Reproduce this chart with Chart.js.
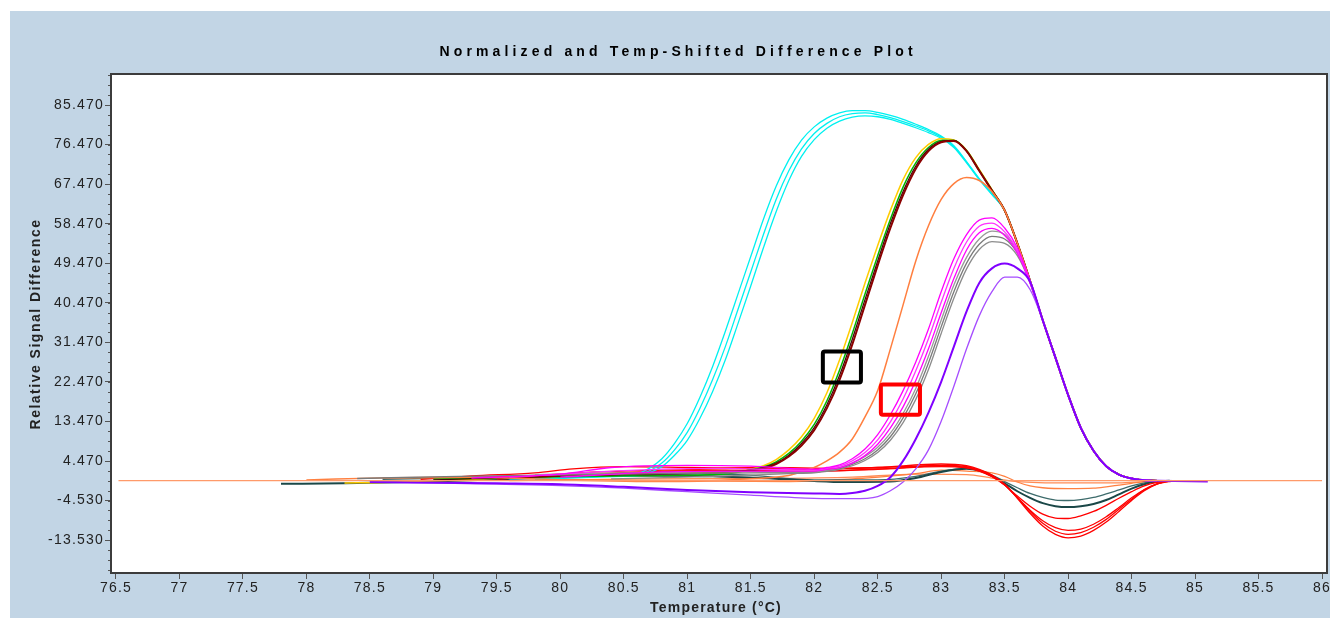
<!DOCTYPE html>
<html>
<head>
<meta charset="utf-8">
<script src="https://cdn.jsdelivr.net/npm/chart.js@4.4.1/dist/chart.umd.min.js"></script>
<style>
  html, body { margin: 0; padding: 0; background: #ffffff; }
  #plot { display: block; }
</style>
</head>
<body>
<canvas id="plot" width="1334" height="618"></canvas>
<script>
// Difference curves, [temperature °C, relative signal difference]

const xTicks = [76.5, 77, 77.5, 78, 78.5, 79, 79.5, 80, 80.5, 81, 81.5, 82, 82.5, 83, 83.5, 84, 84.5, 85, 85.5, 86];
const yTicks = [-13.53, -4.53, 4.47, 13.47, 22.47, 31.47, 40.47, 49.47, 58.47, 67.47, 76.47, 85.47];

// shared falling edge after the melt peak
const fallTail = [[83.5, 61.5], [83.6, 54], [83.7, 45.5], [83.8, 36.5], [83.9, 28], [84.0, 19.5], [84.1, 12], [84.2, 6.8], [84.3, 3.3], [84.4, 1.4], [84.5, 0.5], [84.6, 0.1], [84.7, 0]];

const flatRef = [[76.52, 0], [86.0, 0]];

const cyan1 = [[79.6, 0.5], [80.2, 1.0], [80.5, 1.2], [80.6, 1.5], [80.7, 2.8], [80.8, 5.0], [80.9, 8.5], [81.0, 13.0], [81.1, 19.0], [81.2, 26.0], [81.3, 34.0], [81.4, 42.5], [81.5, 51.0], [81.6, 59.5], [81.7, 67.0], [81.8, 73.0], [81.9, 77.5], [82.0, 80.5], [82.1, 82.5], [82.2, 83.7], [82.3, 84.2], [82.4, 84.2], [82.5, 83.8], [82.6, 83.1], [82.7, 82.2], [82.8, 81.1], [82.9, 79.9], [83.0, 78.4], [83.1, 76.2], [83.2, 72.6], [83.3, 68.7], [83.4, 65.3]];
const cyan2 = [[79.6, 0.4], [80.2, 0.9], [80.5, 1.1], [80.6, 1.3], [80.7, 2.2], [80.8, 4.0], [80.9, 7.0], [81.0, 11.0], [81.1, 16.5], [81.2, 23.0], [81.3, 30.5], [81.4, 39.0], [81.5, 47.5], [81.6, 56.0], [81.7, 64.0], [81.8, 70.5], [81.9, 75.5], [82.0, 79.0], [82.1, 81.3], [82.2, 82.8], [82.3, 83.5], [82.4, 83.7], [82.5, 83.3], [82.6, 82.6], [82.7, 81.7], [82.8, 80.7], [82.9, 79.6], [83.0, 78.2], [83.1, 76.0], [83.2, 72.5], [83.3, 68.6], [83.4, 65.2]];
const cyan3 = [[79.8, 0.3], [80.3, 0.8], [80.5, 1.0], [80.6, 1.1], [80.7, 1.8], [80.8, 3.2], [80.9, 5.8], [81.0, 9.2], [81.1, 14.2], [81.2, 20.3], [81.3, 27.5], [81.4, 35.8], [81.5, 44.3], [81.6, 53.0], [81.7, 61.2], [81.8, 68.3], [81.9, 73.8], [82.0, 77.6], [82.1, 80.2], [82.2, 81.8], [82.3, 82.7], [82.4, 83.0], [82.5, 82.8], [82.6, 82.2], [82.7, 81.3], [82.8, 80.3], [82.9, 79.2], [83.0, 77.9], [83.1, 75.8], [83.2, 72.3], [83.3, 68.5], [83.4, 65.1]];

const yellow = [[78.3, -0.5], [78.6, -0.4], [79.2, 0.2], [80.0, 1.0], [80.8, 1.6], [81.3, 2.0], [81.5, 2.6], [81.6, 3.4], [81.7, 4.8], [81.8, 7.0], [81.9, 10.0], [82.0, 14.2], [82.1, 20.0], [82.2, 27.5], [82.3, 36.0], [82.4, 45.0], [82.5, 53.5], [82.6, 61.5], [82.7, 68.5], [82.8, 73.5], [82.9, 76.5], [83.0, 77.8], [83.1, 77.5], [83.2, 75.2], [83.3, 70.8], [83.4, 66.2]];
const green = [[79.0, 0.4], [80.0, 0.9], [80.8, 1.2], [81.3, 1.5], [81.5, 2.5], [81.6, 3.1], [81.7, 4.3], [81.8, 6.2], [81.9, 9.0], [82.0, 12.8], [82.1, 18.2], [82.2, 25.2], [82.3, 33.5], [82.4, 42.5], [82.5, 51.2], [82.6, 59.5], [82.7, 66.8], [82.8, 72.3], [82.9, 75.8], [83.0, 77.4], [83.1, 77.4], [83.2, 75.1], [83.3, 70.6], [83.4, 66.1]];
const maroon = [[79.5, 0.6], [80.5, 1.6], [81.2, 2.0], [81.5, 2.3], [81.6, 2.8], [81.7, 3.8], [81.8, 5.5], [81.9, 8.0], [82.0, 11.5], [82.1, 16.5], [82.2, 23.0], [82.3, 31.0], [82.4, 40.0], [82.5, 49.0], [82.6, 57.5], [82.7, 65.0], [82.8, 71.0], [82.9, 75.0], [83.0, 77.0], [83.1, 77.3], [83.2, 75.0], [83.3, 70.5], [83.4, 66.0]];
const darkRed = [[79.0, 0.2], [80.2, 1.2], [81.2, 1.8], [81.5, 2.4], [81.6, 3.0], [81.7, 4.0], [81.8, 5.8], [81.9, 8.5], [82.0, 12.1], [82.1, 17.3], [82.2, 24.0], [82.3, 32.2], [82.4, 41.2], [82.5, 50.0], [82.6, 58.5], [82.7, 65.8], [82.8, 71.6], [82.9, 75.4], [83.0, 77.2], [83.1, 77.4], [83.2, 75.0], [83.3, 70.5], [83.4, 66.0]];

const coral = [[78.6, 0.6], [79.3, 0.8], [80.0, 0.2], [80.8, -0.2], [81.4, 0.3], [81.8, 1.2], [81.9, 2.0], [82.0, 3.0], [82.1, 4.5], [82.2, 6.5], [82.3, 9.5], [82.4, 14.5], [82.5, 20.5], [82.6, 30.0], [82.7, 40.0], [82.8, 50.0], [82.9, 58.0], [83.0, 64.0], [83.1, 67.6], [83.2, 69.0], [83.3, 68.3], [83.4, 65.8]];

const magenta1 = [[79.3, 0.6], [80.0, 1.5], [80.4, 3.0], [81.0, 3.5], [81.5, 3.3], [82.0, 2.6], [82.1, 3.0], [82.2, 3.6], [82.3, 5.0], [82.4, 7.2], [82.5, 10.5], [82.6, 15.0], [82.7, 20.5], [82.8, 27.0], [82.9, 34.5], [83.0, 43.0], [83.1, 50.5], [83.2, 56.0], [83.3, 59.3], [83.4, 59.8], [83.5, 57.5], [83.6, 53.0], [83.7, 45.5]];
const magenta2 = [[79.6, 0.8], [80.5, 2.3], [81.2, 2.8], [82.0, 2.4], [82.1, 2.8], [82.2, 3.3], [82.3, 4.5], [82.4, 6.4], [82.5, 9.3], [82.6, 13.4], [82.7, 18.6], [82.8, 25.0], [82.9, 32.3], [83.0, 40.6], [83.1, 48.3], [83.2, 54.3], [83.3, 57.9], [83.4, 58.6], [83.5, 56.6], [83.6, 52.4], [83.7, 45.3]];
const magenta3 = [[80.0, 0.8], [80.8, 2.0], [81.5, 2.2], [82.0, 2.2], [82.1, 2.6], [82.2, 3.0], [82.3, 4.0], [82.4, 5.7], [82.5, 8.3], [82.6, 12.0], [82.7, 16.8], [82.8, 22.8], [82.9, 30.0], [83.0, 38.2], [83.1, 46.0], [83.2, 52.5], [83.3, 56.4], [83.4, 57.4], [83.5, 55.8], [83.6, 51.8], [83.7, 45.0]];

const gray1 = [[79.8, 1.4], [80.5, 1.8], [81.3, 2.0], [82.0, 2.0], [82.1, 2.4], [82.2, 3.0], [82.3, 4.0], [82.4, 5.5], [82.5, 7.6], [82.6, 10.8], [82.7, 15.3], [82.8, 21.0], [82.9, 28.3], [83.0, 36.5], [83.1, 44.5], [83.2, 50.8], [83.3, 55.0], [83.4, 56.8], [83.5, 56.0], [83.6, 52.3], [83.7, 45.5]];
const gray2 = [[78.4, 0.5], [79.2, 1.0], [80.3, 1.4], [81.5, 1.8], [82.0, 1.9], [82.1, 2.3], [82.2, 2.8], [82.3, 3.7], [82.4, 5.0], [82.5, 7.0], [82.6, 10.0], [82.7, 14.3], [82.8, 19.8], [82.9, 26.8], [83.0, 35.0], [83.1, 43.0], [83.2, 49.5], [83.3, 53.8], [83.4, 55.6], [83.5, 55.0], [83.6, 51.8], [83.7, 45.3]];
const gray3 = [[80.4, 0.4], [81.2, 1.0], [81.8, 1.6], [82.0, 1.8], [82.1, 2.1], [82.2, 2.6], [82.3, 3.4], [82.4, 4.6], [82.5, 6.4], [82.6, 9.2], [82.7, 13.2], [82.8, 18.5], [82.9, 25.3], [83.0, 33.5], [83.1, 41.5], [83.2, 48.2], [83.3, 52.6], [83.4, 54.4], [83.5, 54.0], [83.6, 51.2], [83.7, 45.0]];

const violet1 = [[78.5, -0.3], [79.5, -0.6], [80.0, -0.8], [80.5, -1.4], [81.0, -2.1], [81.5, -2.6], [82.0, -2.9], [82.2, -3.0], [82.3, -2.8], [82.4, -2.3], [82.5, -1.2], [82.6, 0.8], [82.7, 4.5], [82.8, 9.5], [82.9, 15.5], [83.0, 22.5], [83.1, 30.5], [83.2, 38.5], [83.3, 45.0], [83.4, 48.3], [83.5, 49.4], [83.6, 48.3], [83.7, 45.3], [83.8, 36.5]];
const violet2 = [[78.5, -0.3], [79.0, -0.5], [79.5, -0.8], [80.0, -1.1], [80.5, -1.7], [81.0, -2.5], [81.5, -3.3], [82.0, -4.0], [82.3, -4.1], [82.5, -3.6], [82.6, -2.3], [82.7, -0.3], [82.8, 2.7], [82.9, 7.0], [83.0, 13.5], [83.1, 21.5], [83.2, 30.0], [83.3, 37.5], [83.4, 43.0], [83.5, 46.3], [83.6, 46.3], [83.7, 43.5], [83.8, 36.5]];
const violetEnd = [[85.1, -0.2]];

const red1 = [[78.9, 0.3], [79.3, 1.1], [79.8, 1.8], [80.1, 2.7], [80.5, 3.2], [81.0, 3.0], [81.5, 2.8], [82.0, 2.6], [82.5, 3.0], [83.0, 3.8], [83.2, 3.4], [83.3, 2.6], [83.4, 1.3], [83.5, -0.8], [83.6, -4.0], [83.7, -7.4], [83.8, -10.3], [83.9, -12.2], [84.0, -13.0], [84.1, -12.6], [84.2, -11.3], [84.3, -9.4], [84.4, -7.0], [84.5, -4.5], [84.6, -2.3], [84.7, -0.8], [84.8, -0.2], [84.9, 0]];
const red2 = [[79.2, 0.5], [79.8, 1.2], [80.3, 2.0], [81.0, 2.5], [81.6, 3.0], [82.2, 2.8], [82.7, 3.2], [83.0, 3.5], [83.2, 3.2], [83.3, 2.4], [83.4, 1.1], [83.5, -0.9], [83.6, -3.9], [83.7, -7.0], [83.8, -9.7], [83.9, -11.5], [84.0, -12.2], [84.1, -11.8], [84.2, -10.6], [84.3, -8.8], [84.4, -6.5], [84.5, -4.2], [84.6, -2.1], [84.7, -0.7], [84.8, -0.1], [84.9, 0]];
const red3 = [[80.0, 0.6], [80.6, 1.8], [81.3, 2.4], [82.0, 2.2], [82.6, 2.8], [83.0, 3.4], [83.2, 3.0], [83.3, 2.3], [83.4, 1.0], [83.5, -1.0], [83.6, -3.8], [83.7, -6.7], [83.8, -9.1], [83.9, -10.7], [84.0, -11.3], [84.1, -11.0], [84.2, -9.9], [84.3, -8.2], [84.4, -6.1], [84.5, -3.9], [84.6, -2.0], [84.7, -0.7], [84.8, -0.1], [84.9, 0]];
const red4 = [[79.5, 0.4], [80.2, 1.5], [81.0, 2.2], [81.8, 2.0], [82.5, 2.6], [83.0, 3.2], [83.2, 2.9], [83.3, 2.2], [83.4, 0.9], [83.5, -1.0], [83.6, -3.5], [83.7, -5.8], [83.8, -7.6], [83.9, -8.5], [84.0, -8.6], [84.1, -8.0], [84.2, -7.0], [84.3, -5.6], [84.4, -4.0], [84.5, -2.5], [84.6, -1.2], [84.7, -0.4], [84.8, 0]];

const teal1 = [[77.8, -0.7], [78.3, -0.6], [79.0, -0.2], [79.8, 0.6], [80.5, 1.2], [81.2, 1.0], [81.8, 0.3], [82.2, -0.3], [82.6, -0.2], [82.8, 0.6], [83.0, 2.0], [83.2, 2.7], [83.3, 2.3], [83.4, 1.1], [83.5, -0.6], [83.6, -2.4], [83.7, -3.9], [83.8, -5.1], [83.9, -5.8], [84.0, -6.0], [84.1, -5.8], [84.2, -5.3], [84.3, -4.4], [84.4, -3.1], [84.5, -1.8], [84.6, -0.8], [84.7, -0.2], [84.8, 0]];
const teal2 = [[78.6, 0.3], [79.6, 0.9], [80.6, 1.6], [81.4, 1.4], [82.0, 0.2], [82.5, 0.2], [82.8, 1.0], [83.0, 2.2], [83.2, 2.8], [83.3, 2.4], [83.4, 1.3], [83.5, -0.2], [83.6, -1.6], [83.7, -2.9], [83.8, -3.8], [83.9, -4.4], [84.0, -4.5], [84.1, -4.3], [84.2, -3.8], [84.3, -3.0], [84.4, -2.1], [84.5, -1.2], [84.6, -0.5], [84.7, -0.1], [84.8, 0]];

const orange1 = [[78.0, 0.2], [78.7, 0.7], [79.3, 0.8], [80.0, 0.3], [81.0, 0.0], [81.8, -0.2], [82.4, 0.6], [82.8, 1.6], [83.0, 2.4], [83.2, 2.2], [83.4, 1.8], [83.5, 1.0], [83.6, -0.3], [83.7, -1.2], [83.8, -1.6], [84.0, -1.8], [84.2, -1.7], [84.3, -1.4], [84.4, -1.0], [84.5, -0.6], [84.6, -0.2], [84.7, 0]];
const orange2 = [[79.6, 0.0], [80.6, 0.4], [81.6, 0.5], [82.3, 0.8], [82.8, 1.5], [83.2, 1.4], [83.4, 0.6], [83.6, -0.2], [84.0, -0.5], [84.4, -0.5], [84.6, -0.2], [84.8, 0]];

// annotation frames, [xMin, xMax, yMin, yMax] in data units
const boxes = [
  { rect: [82.068, 82.368, 22.32, 29.38], color: '#000000' },
  { rect: [82.525, 82.833, 15.03, 21.87], color: '#ff0000' }
];

function withTail(points, extra) {
  const lastX = points[points.length - 1][0];
  const out = points.concat(fallTail.filter(p => p[0] > lastX + 1e-9));
  return extra ? out.concat(extra) : out;
}

function line(data, color, width) {
  return {
    data: data,
    borderColor: color,
    borderWidth: width || 1.3,
    pointRadius: 0,
    fill: false,
    cubicInterpolationMode: 'monotone'
  };
}

const datasets = [
  line(flatRef, '#ff9a6a', 1.3),
  line(withTail(violet1, violetEnd), '#8000ff', 2),
  line(withTail(violet2), '#a64dff', 1.3),
  line(withTail(magenta1), '#ff00ff'),
  line(withTail(magenta2), '#ff33ff'),
  line(withTail(magenta3), '#ff00ff'),
  line(withTail(gray1), '#999999'),
  line(withTail(gray2), '#7a7a7a'),
  line(withTail(gray3), '#8c8c8c'),
  line(withTail(coral), '#ff7f3f', 1.5),
  line(withTail(maroon), '#8b0000', 2),
  line(withTail(darkRed), '#3a0c0c', 1.3),
  line(withTail(green), '#00b400', 1.5),
  line(withTail(yellow), '#ffcc00', 1.5),
  line(withTail(cyan1), '#00f0f0'),
  line(withTail(cyan2), '#00f0f0'),
  line(withTail(cyan3), '#00f0f0'),
  line(red1, '#ff0000'),
  line(red2, '#ff0000'),
  line(red3, '#ff0000'),
  line(red4, '#ff0000'),
  line(teal1, '#1a4747', 2),
  line(teal2, '#3d6b6b'),
  line(orange1, '#ff8040'),
  line(orange2, '#ff8c55')
];

const panelBlue = '#c2d5e5';
const inkColor = '#222222';

const framePlugin = {
  id: 'frame',
  beforeDraw(chart) {
    const { ctx, chartArea: a } = chart;
    ctx.save();
    ctx.fillStyle = '#ffffff';
    ctx.fillRect(0, 0, chart.width, chart.height);
    ctx.fillStyle = panelBlue;
    ctx.fillRect(10, 11, 1320, chart.height - 11);
    ctx.fillStyle = '#ffffff';
    ctx.fillRect(a.left, a.top, a.right - a.left, a.bottom - a.top);
    ctx.restore();
    // tick labels are drawn in a spaced-out bitmap style
    ctx.letterSpacing = '1.2px';
  },
  afterDatasetsDraw(chart) {
    const { ctx, scales: { x, y } } = chart;
    ctx.save();
    ctx.lineWidth = 4;
    ctx.lineJoin = 'round';
    boxes.forEach(b => {
      const [x0, x1, y0, y1] = b.rect;
      const left = x.getPixelForValue(x0), right = x.getPixelForValue(x1);
      const top = y.getPixelForValue(y1), bottom = y.getPixelForValue(y0);
      ctx.strokeStyle = b.color;
      ctx.beginPath();
      ctx.roundRect(left, top, right - left, bottom - top, 2);
      ctx.stroke();
    });
    ctx.restore();
  },
  afterDraw(chart) {
    const { ctx, chartArea: a, scales: { y } } = chart;
    ctx.save();
    ctx.letterSpacing = '0px';

    // minor ticks on the value axis
    ctx.strokeStyle = '#555555';
    ctx.lineWidth = 1;
    ctx.beginPath();
    for (let v = yTicks[0] - 2.25 * 4; v <= y.max; v += 2.25) {
      if (v < y.min) continue;
      const py = Math.round(y.getPixelForValue(v)) + 0.5;
      ctx.moveTo(a.left - 3, py);
      ctx.lineTo(a.left, py);
    }
    ctx.stroke();

    // plot frame
    ctx.strokeStyle = '#3c3c3c';
    ctx.lineWidth = 2;
    ctx.strokeRect(a.left, a.top, a.right - a.left, a.bottom - a.top);

    // chart title, letter-spaced across the top
    const title = 'Normalized and Temp-Shifted Difference Plot';
    ctx.fillStyle = '#000000';
    ctx.font = 'bold 14px "Liberation Sans", Arial, sans-serif';
    ctx.textBaseline = 'middle';
    ctx.textAlign = 'left';
    const plain = ctx.measureText(title).width;
    const spacing = (473 - plain) / (title.length - 1);
    ctx.letterSpacing = spacing.toFixed(2) + 'px';
    ctx.fillText(title, 676 - 473 / 2, 52);

    // axis titles
    ctx.font = 'bold 14px "Liberation Sans", Arial, sans-serif';
    ctx.textAlign = 'center';
    ctx.fillStyle = inkColor;
    ctx.letterSpacing = '1.2px';
    ctx.fillText('Temperature (°C)', 716, 608);
    ctx.letterSpacing = '1.5px';
    ctx.translate(36, 324);
    ctx.rotate(-Math.PI / 2);
    ctx.fillText('Relative Signal Difference', 0, 0);
    ctx.restore();
    ctx.letterSpacing = '0px';
  }
};

new Chart(document.getElementById('plot'), {
  type: 'line',
  data: { datasets: datasets },
  options: {
    responsive: false,
    animation: false,
    devicePixelRatio: 1,
    layout: { padding: { top: 74, right: 7, bottom: 0, left: 0 } },
    plugins: {
      legend: { display: false },
      tooltip: { enabled: false },
      title: { display: false }
    },
    scales: {
      x: {
        type: 'linear',
        min: 76.461,
        max: 86.039,
        afterBuildTicks: scale => { scale.ticks = xTicks.map(v => ({ value: v })); },
        afterFit: scale => { scale.height = 45; },
        grid: { drawOnChartArea: false, drawTicks: true, tickLength: 6, tickColor: '#555555' },
        border: { display: false },
        ticks: {
          autoSkip: false,
          maxRotation: 0,
          padding: 1,
          color: inkColor,
          font: { family: '"Liberation Sans", Arial, sans-serif', size: 14 },
          callback: v => String(v)
        }
      },
      y: {
        type: 'linear',
        min: -21.0,
        max: 92.53,
        afterBuildTicks: scale => { scale.ticks = yTicks.map(v => ({ value: v })); },
        afterFit: scale => { scale.width = 111; },
        grid: { drawOnChartArea: false, drawTicks: true, tickLength: 6, tickColor: '#555555' },
        border: { display: false },
        ticks: {
          autoSkip: false,
          padding: 1,
          color: inkColor,
          font: { family: '"Liberation Sans", Arial, sans-serif', size: 14 },
          callback: v => v.toFixed(3)
        }
      }
    }
  },
  plugins: [framePlugin]
});
</script>
</body>
</html>
